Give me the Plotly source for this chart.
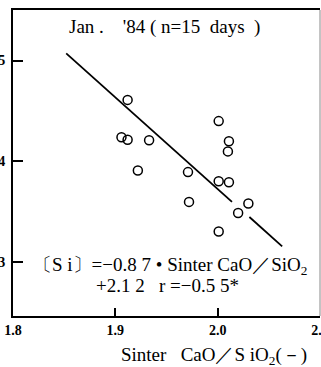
import plotly.graph_objects as go

# Data
sinter_basicity = [1.912, 2.001, 1.906, 1.912, 1.933, 1.922, 1.971, 1.972,
                   2.001, 2.011, 2.011, 2.010, 2.030, 2.020, 2.001]
hot_metal_si = [4.61, 4.40, 4.24, 4.215, 4.21, 3.91, 3.895, 3.60,
                3.805, 3.795, 4.20, 4.10, 3.584, 3.49, 3.307]

# Regression line (drawn with a gap, as in the original)
fit_x = [1.852, 2.014, None, 2.031, 2.063]
fit_y = [5.07, 3.60, None, 3.45, 3.16]

x_ticks = [1.8, 1.9, 2.0, 2.1]
x_tick_labels = ["1.8", "1.9", "2.0", "2.1"]
y_ticks = [3, 4, 5]
y_tick_labels = ["3", "4", "5"]

NB = "\u00a0"
title_text = f"Jan{NB}.{NB*4}'84{NB}({NB}n=15{NB*2}days{NB*2})"
eq_line1 = f"〔S{NB}i〕=−0.8{NB}7{NB}•{NB}Sinter{NB}CaO／SiO<sub>2</sub>"
eq_line2 = f"+2.1{NB}2{NB*3}r{NB}=−0.5{NB}5*"
x_title = f"Sinter{NB*3}CaO／S{NB}iO<sub>2</sub>(－)"

serif = "Liberation Serif"

fig = go.Figure()
fig.add_trace(go.Scatter(x=fit_x, y=fit_y, mode="lines",
                         line=dict(color="black", width=1.8),
                         connectgaps=False, hoverinfo="skip"))
fig.add_trace(go.Scatter(x=sinter_basicity, y=hot_metal_si, mode="markers",
                         marker=dict(symbol="circle-open", size=9,
                                     color="black", line=dict(width=1.5))))

fig.update_layout(
    width=321, height=367,
    margin=dict(l=13, r=1, t=10, b=51),
    paper_bgcolor="white", plot_bgcolor="white",
    showlegend=False,
    font=dict(family=serif, color="black"),
    xaxis=dict(range=[1.8, 2.1], tickvals=x_ticks, ticktext=x_tick_labels,
               ticks="inside", ticklen=8, tickwidth=2, tickcolor="black",
               showline=True, linecolor="black", linewidth=2, mirror=True,
               showgrid=False, zeroline=False, automargin=False,
               ticklabeloverflow="allow",
               tickfont=dict(family=serif, size=14, color="black", weight="bold")),
    yaxis=dict(range=[2.47, 5.5], tickvals=y_ticks, ticktext=y_tick_labels,
               ticks="inside", ticklen=10, tickwidth=2, tickcolor="black",
               showline=True, linecolor="black", linewidth=2,
               showgrid=False, zeroline=False, ticklabelstandoff=3,
               automargin=False, ticklabeloverflow="allow",
               tickfont=dict(family=serif, size=14, color="black", weight="bold")),
)

fig.add_shape(type="line", xref="paper", yref="paper", x0=1, x1=1, y0=0, y1=1,
              line=dict(color="#888", width=1))

fig.add_annotation(text=title_text, xref="paper", yref="paper", x=0.495, y=0.944,
                   xanchor="center", yanchor="middle", showarrow=False,
                   font=dict(family=serif, size=19, color="black"))
fig.add_annotation(text=eq_line1, xref="paper", yref="paper", x=0.06, y=0.163,
                   xanchor="left", yanchor="middle", showarrow=False,
                   font=dict(family=serif, size=19, color="black"))
fig.add_annotation(text=eq_line2, xref="paper", yref="paper", x=0.264, y=0.101,
                   xanchor="left", yanchor="middle", showarrow=False,
                   font=dict(family=serif, size=19, color="black"))
fig.add_annotation(text=x_title, xref="paper", yref="paper", x=0.655, y=-0.13,
                   xanchor="center", yanchor="middle", showarrow=False,
                   font=dict(family=serif, size=19, color="black"))

fig.write_html("out.html", config={"displayModeBar": False},
               post_script="document.body.style.margin='0';")
